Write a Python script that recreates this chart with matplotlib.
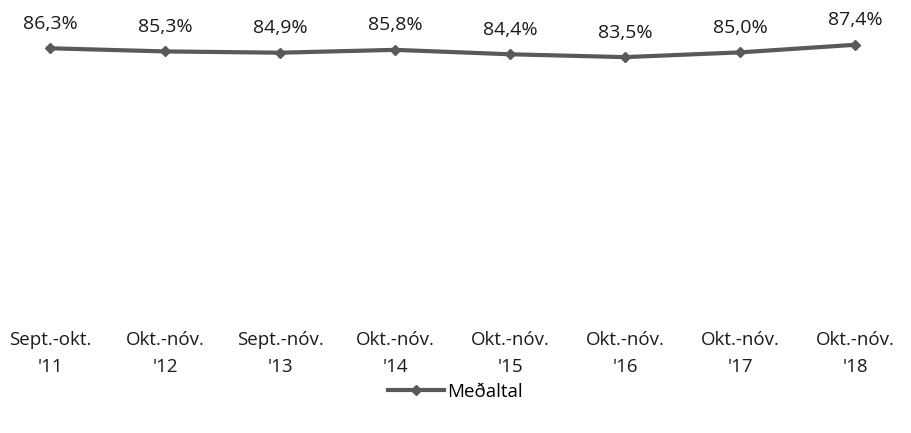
import matplotlib
matplotlib.use("Agg")
import matplotlib.pyplot as plt
from matplotlib.lines import Line2D

# data
periods = ["Sept.-okt.\n'11", "Okt.-nóv.\n'12", "Sept.-nóv.\n'13", "Okt.-nóv.\n'14",
           "Okt.-nóv.\n'15", "Okt.-nóv.\n'16", "Okt.-nóv.\n'17", "Okt.-nóv.\n'18"]
medaltal = [86.3, 85.3, 84.9, 85.8, 84.4, 83.5, 85.0, 87.4]
series_name = "Meðaltal"

plt.rcParams['font.family'] = ['Open Sans', 'DejaVu Sans']
plt.rcParams['font.size'] = 13.5

line_col = '#595959'
text_col = '#1a1a1a'

fig = plt.figure(figsize=(9.11, 4.33), dpi=100)
ax = fig.add_axes([0.0, 0.2587, 1.0, 0.7298])

xs = list(range(len(periods)))
ax.plot(xs, medaltal, color=line_col, lw=3, marker='D', ms=5,
        markerfacecolor=line_col, markeredgecolor=line_col)

# data labels, comma as decimal sign
for x, v in zip(xs, medaltal):
    ax.annotate(("%.1f%%" % v).replace('.', ','), (x, v), xytext=(0, 14),
                textcoords='offset points', ha='center', va='baseline',
                fontsize=14, color=text_col)

ax.set_ylim(0, 100)
ax.set_xlim(-0.435, 7.487)
ax.set_xticks(xs)
ax.set_xticklabels(periods, fontsize=13.5, color=text_col, linespacing=1.6)
ax.tick_params(axis='x', length=0, pad=7.5)
ax.set_yticks([])
for s in ax.spines.values():
    s.set_visible(False)

handle = Line2D([], [], color=line_col, lw=3, marker='D', ms=5)
fig.legend([handle], [series_name], loc='center', bbox_to_anchor=(0.5, 0.095),
           frameon=False, fontsize=13.5, handlelength=3.0, handletextpad=0.15)

fig.savefig('out.png', dpi=100)
